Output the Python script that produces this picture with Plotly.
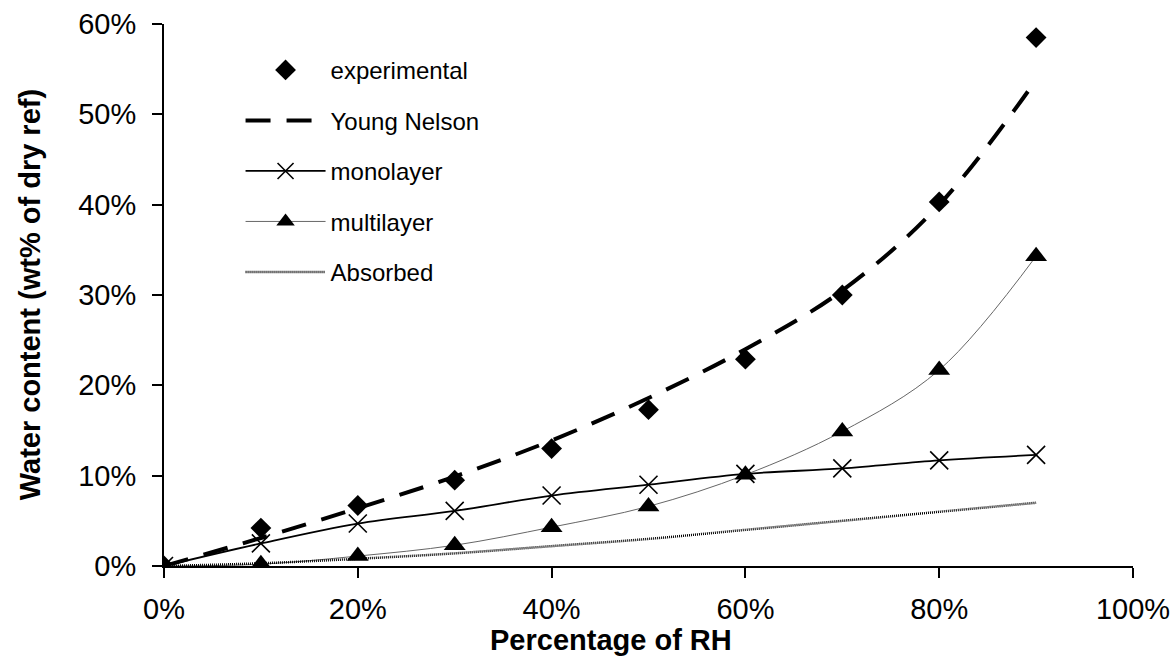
import plotly.graph_objects as go

rh = [0.0, 0.1, 0.2, 0.3, 0.4, 0.5, 0.6, 0.7, 0.8, 0.9]
experimental = [0.0, 0.042, 0.067, 0.095, 0.130, 0.173, 0.229, 0.300, 0.403, 0.585]
young_nelson = [0.0, 0.031, 0.064, 0.099, 0.139, 0.186, 0.240, 0.305, 0.400, 0.538]
monolayer = [0.0, 0.025, 0.047, 0.061, 0.078, 0.090, 0.102, 0.108, 0.117, 0.123]
multilayer = [0.0, 0.002, 0.011, 0.023, 0.043, 0.066, 0.101, 0.149, 0.217, 0.343]
absorbed = [0.0, 0.003, 0.008, 0.014, 0.022, 0.030, 0.040, 0.050, 0.060, 0.070]

names = ["experimental", "Young Nelson", "monolayer", "multilayer", "Absorbed"]

FONT = "Liberation Sans, Arial, sans-serif"

fig = go.Figure()
fig.add_trace(go.Scatter(
    x=rh, y=experimental, mode="markers", name=names[0], legendgroup="g1",
    marker=dict(symbol="diamond", size=16, color="black"),
))
fig.add_trace(go.Scatter(
    x=rh, y=young_nelson, mode="lines", name=names[1], legendgroup="g2",
    line=dict(color="black", width=4, dash="25px,16px", shape="spline"),
))
fig.add_trace(go.Scatter(
    x=rh, y=monolayer, mode="lines+markers", name=names[2], legendgroup="g3",
    line=dict(color="black", width=1.8, shape="spline"),
    marker=dict(symbol="x-thin", size=18, line=dict(color="black", width=1.6), color="black"),
))
fig.add_trace(go.Scatter(
    x=rh, y=multilayer, mode="lines+markers", name=names[3], legendgroup="g4",
    line=dict(color="#666666", width=1, shape="spline"),
    marker=dict(symbol="triangle-up", size=19, color="black"),
))
fig.add_trace(go.Scatter(
    x=rh, y=absorbed, mode="lines", name=names[4], legendgroup="g5",
    line=dict(color="black", width=2.5, dash="1px,1px", shape="spline"),
))

fig.update_layout(
    width=1174, height=663,
    margin=dict(l=164, r=41, t=24, b=97),
    paper_bgcolor="white", plot_bgcolor="white",
    font=dict(family=FONT, color="black"),
    showlegend=True,
    legend=dict(
        x=0.079, y=0.956, xanchor="left", yanchor="top",
        font=dict(size=24, family=FONT, color="black"),
        tracegroupgap=16.3, itemwidth=80, bgcolor="rgba(0,0,0,0)",
    ),
    xaxis=dict(
        range=[0, 1], tickvals=[0, 0.2, 0.4, 0.6, 0.8, 1.0], tickformat=".0%",
        showline=True, linecolor="black", linewidth=2, showgrid=False, zeroline=False,
        ticks="outside", ticklen=10, tickwidth=2, tickcolor="black",
        tickfont=dict(size=29, family=FONT, color="black"),
        ticklabelstandoff=6, automargin=False,
    ),
    yaxis=dict(
        range=[0, 0.6], tickvals=[0, 0.1, 0.2, 0.3, 0.4, 0.5, 0.6], tickformat=".0%",
        showline=True, linecolor="black", linewidth=2, showgrid=False, zeroline=False,
        ticks="outside", ticklen=10, tickwidth=2, tickcolor="black",
        tickfont=dict(size=29, family=FONT, color="black"),
        ticklabelstandoff=10, automargin=False,
    ),
    annotations=[
        dict(text="<b>Percentage of RH</b>", xref="paper", yref="paper",
             x=0.461, y=-0.137, xanchor="center", yanchor="middle", showarrow=False,
             font=dict(size=29, family=FONT, color="black")),
        dict(text="<b>Water content (wt% of dry ref)</b>", xref="paper", yref="paper",
             x=-0.138, y=0.5, xanchor="center", yanchor="middle", showarrow=False,
             textangle=-90, font=dict(size=29, family=FONT, color="black")),
    ],
)

fig.write_html("out.html")
